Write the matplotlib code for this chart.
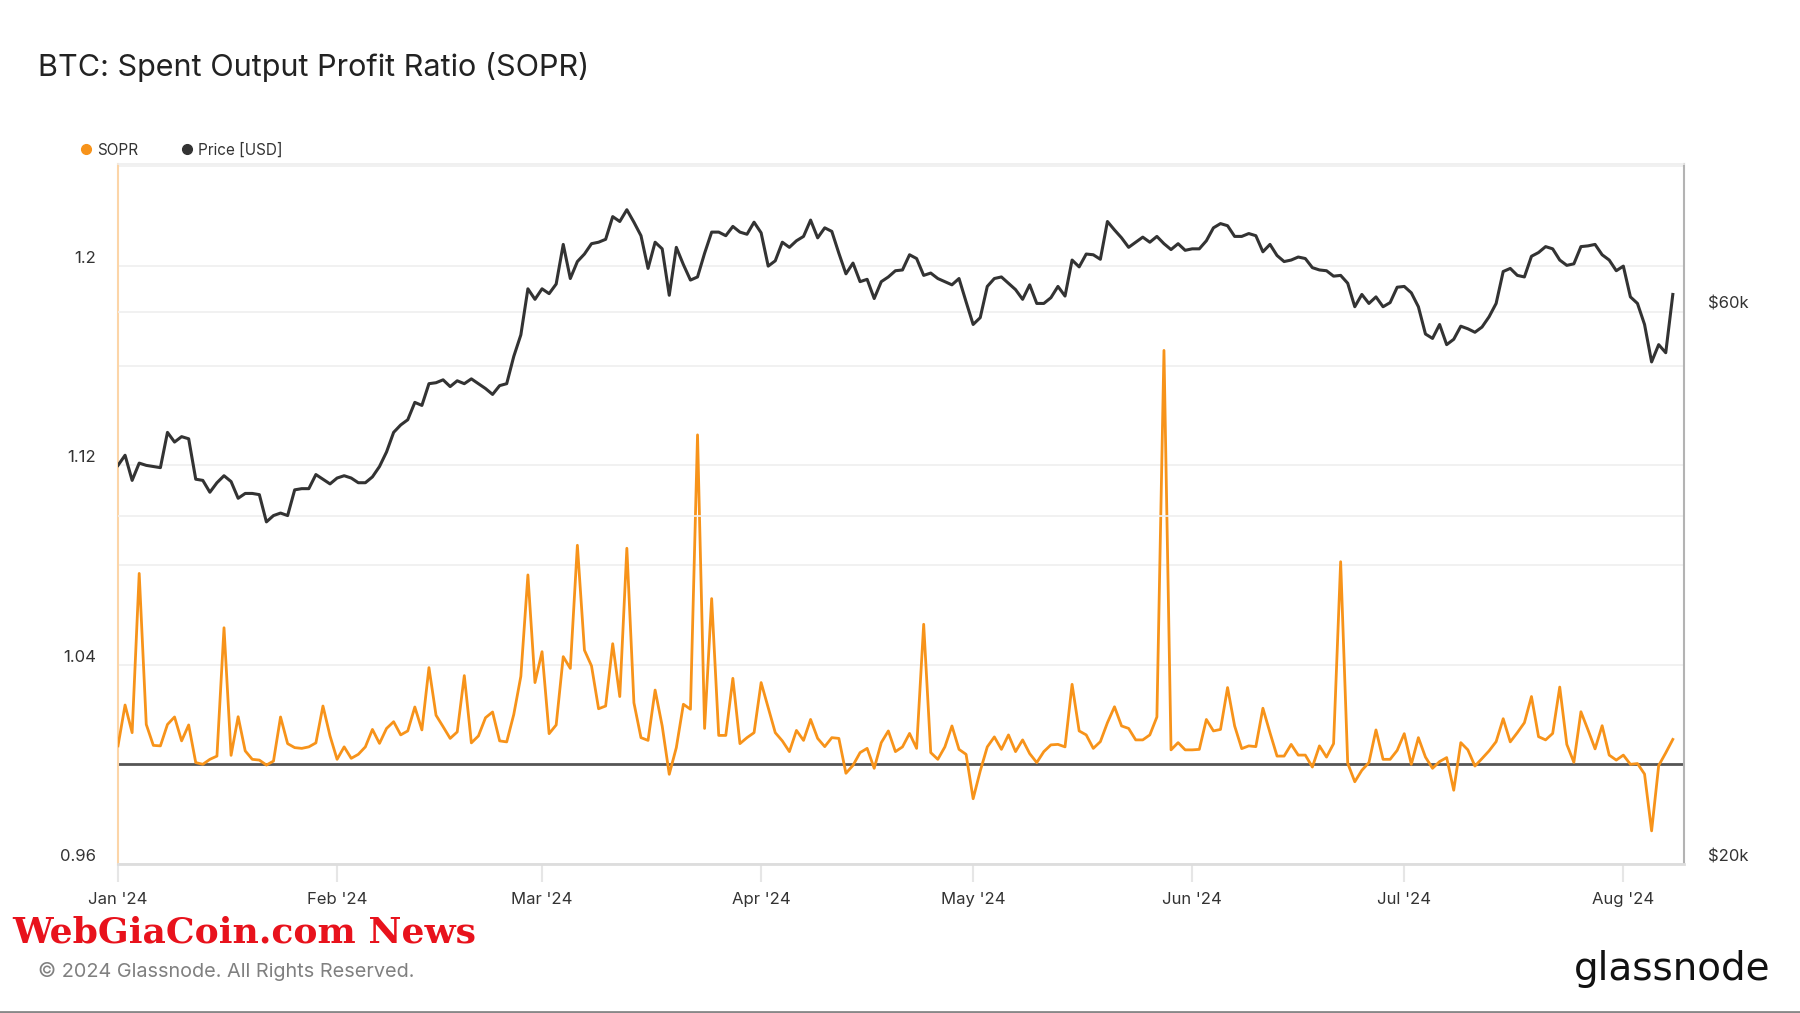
import numpy as np
import pandas as pd
import matplotlib
matplotlib.use("Agg")
import matplotlib.pyplot as plt
from matplotlib.lines import Line2D
from matplotlib.ticker import FixedLocator, FixedFormatter, NullLocator

plt.rcParams['font.family'] = ['Inter', 'DejaVu Sans']

# SOPR, daily from 1 Jan 2024
sopr = [
    1.0074, 1.0238, 1.0127, 1.0766, 1.0160, 1.0076, 1.0074, 1.0160, 1.0190, 1.0094,
    1.0158, 1.0007, 1.0000, 1.0020, 1.0033, 1.0548, 1.0036, 1.0191, 1.0054, 1.0020,
    1.0017, 0.9997, 1.0013, 1.0190, 1.0083, 1.0067, 1.0064, 1.0070, 1.0086, 1.0234,
    1.0114, 1.0020, 1.0070, 1.0024, 1.0040, 1.0070, 1.0140, 1.0084, 1.0144, 1.0171,
    1.0118, 1.0134, 1.0230, 1.0138, 1.0388, 1.0197, 1.0151, 1.0104, 1.0130, 1.0356,
    1.0086, 1.0114, 1.0187, 1.0210, 1.0094, 1.0090, 1.0200, 1.0353, 1.0760, 1.0328,
    1.0452, 1.0123, 1.0158, 1.0432, 1.0385, 1.0879, 1.0458, 1.0395, 1.0223, 1.0234,
    1.0484, 1.0272, 1.0867, 1.0247, 1.0107, 1.0096, 1.0298, 1.0154, 0.9960, 1.0067,
    1.0241, 1.0221, 1.1322, 1.0144, 1.0665, 1.0116, 1.0116, 1.0345, 1.0083, 1.0107,
    1.0127, 1.0328, 1.0227, 1.0127, 1.0094, 1.0051, 1.0136, 1.0096, 1.0180, 1.0104,
    1.0071, 1.0107, 1.0104, 0.9964, 0.9996, 1.0047, 1.0064, 0.9984, 1.0087, 1.0134,
    1.0051, 1.0070, 1.0124, 1.0064, 1.0562, 1.0047, 1.0020, 1.0070, 1.0154, 1.0060,
    1.0040, 0.9862, 0.9973, 1.0070, 1.0110, 1.0060, 1.0118, 1.0051, 1.0098, 1.0043,
    1.0007, 1.0051, 1.0078, 1.0080, 1.0070, 1.0321, 1.0134, 1.0118, 1.0064, 1.0091,
    1.0167, 1.0231, 1.0154, 1.0144, 1.0098, 1.0098, 1.0118, 1.0190, 1.1661, 1.0058,
    1.0087, 1.0058, 1.0058, 1.0060, 1.0180, 1.0134, 1.0140, 1.0308, 1.0154, 1.0063,
    1.0074, 1.0071, 1.0225, 1.0127, 1.0033, 1.0033, 1.0080, 1.0037, 1.0037, 0.9989,
    1.0074, 1.0029, 1.0083, 1.0813, 1.0004, 0.9930, 0.9976, 1.0007, 1.0138, 1.0020,
    1.0020, 1.0056, 1.0123, 1.0000, 1.0107, 1.0029, 0.9984, 1.0011, 1.0027, 0.9896,
    1.0087, 1.0058, 0.9993, 1.0023, 1.0054, 1.0091, 1.0183, 1.0090, 1.0127, 1.0167,
    1.0272, 1.0111, 1.0098, 1.0124, 1.0310, 1.0080, 1.0008, 1.0211, 1.0138, 1.0062,
    1.0155, 1.0037, 1.0017, 1.0037, 1.0000, 1.0003, 0.9961, 0.9733, 0.9995, 1.0046,
    1.0100,
]

# BTC price in thousands of USD, same days
price_k = [
    44.2, 45.1, 42.9, 44.4, 44.2, 44.1, 44.0, 47.2, 46.3, 46.8,
    46.6, 43.0, 42.9, 41.9, 42.7, 43.3, 42.8, 41.4, 41.8, 41.8,
    41.7, 39.5, 40.0, 40.2, 40.0, 42.1, 42.2, 42.2, 43.4, 43.0,
    42.6, 43.1, 43.3, 43.1, 42.7, 42.7, 43.2, 44.1, 45.4, 47.2,
    47.9, 48.4, 50.1, 49.8, 52.0, 52.1, 52.4, 51.7, 52.3, 52.0,
    52.5, 52.0, 51.5, 50.9, 51.8, 52.0, 54.9, 57.3, 62.8, 61.5,
    62.8, 62.2, 63.4, 68.6, 64.1, 66.3, 67.3, 68.7, 68.9, 69.3,
    72.5, 71.8, 73.5, 71.7, 69.8, 65.4, 68.9, 68.0, 62.0, 68.2,
    65.9, 63.9, 64.3, 67.4, 70.3, 70.3, 69.8, 71.1, 70.3, 70.0,
    71.7, 70.2, 65.7, 66.4, 68.9, 68.2, 69.1, 69.7, 72.0, 69.5,
    70.9, 70.4, 67.4, 64.7, 66.1, 63.7, 64.0, 61.6, 63.7, 64.3,
    65.1, 65.2, 67.2, 66.7, 64.5, 64.8, 64.1, 63.7, 63.3, 64.1,
    61.2, 58.5, 59.3, 63.1, 64.1, 64.3, 63.5, 62.7, 61.5, 63.3,
    61.0, 61.0, 61.7, 63.1, 61.9, 66.5, 65.6, 67.3, 67.2, 66.6,
    71.8, 70.6, 69.5, 68.2, 68.9, 69.6, 68.9, 69.7, 68.7, 67.9,
    68.7, 67.8, 68.0, 68.0, 69.1, 70.9, 71.5, 71.2, 69.7, 69.7,
    70.1, 69.8, 67.6, 68.6, 67.1, 66.3, 66.5, 66.9, 66.7, 65.5,
    65.2, 65.1, 64.4, 64.5, 63.5, 60.6, 62.1, 61.0, 61.8, 60.6,
    61.1, 63.0, 63.1, 62.3, 60.6, 57.4, 56.9, 58.5, 56.2, 56.8,
    58.3, 58.0, 57.6, 58.2, 59.4, 61.0, 65.0, 65.4, 64.5, 64.3,
    67.0, 67.5, 68.3, 68.0, 66.5, 65.8, 66.0, 68.3, 68.4, 68.6,
    67.2, 66.5, 65.1, 65.7, 61.8, 61.0, 58.5, 54.3, 56.2, 55.3,
    62.1,
]

dates = pd.date_range('2024-01-01', periods=len(sopr), freq='D')
price = np.array(price_k) * 1000

month_ticks = pd.date_range('2024-01-01', '2024-08-01', freq='MS')
month_labels = [d.strftime("%b '%y") for d in month_ticks]

sopr_ticks = [0.96, 1.00, 1.04, 1.08, 1.12, 1.16, 1.20, 1.24]
sopr_labels = ['0.96', '', '1.04', '', '1.12', '', '1.2', '']
price_ticks = [20000, 40000, 60000]
price_labels = ['$20k', '', '$60k']

ORANGE = '#f7931a'
DARK = '#333333'
GRID = '#efefef'

W, H = 1800, 1013
fig = plt.figure(figsize=(W / 100, H / 100), dpi=100)
ax = fig.add_axes([118 / W, (H - 864) / H, (1684 - 118) / W, 700 / H])
ax2 = ax.twinx()

# SOPR
ax.axhline(1.0, color='#555555', lw=2.0, zorder=2)
ax.plot(dates, sopr, color=ORANGE, lw=2.0, zorder=3)
ax.set_ylim(0.96, 1.2409)
ax.yaxis.set_major_locator(FixedLocator(sopr_ticks))
ax.yaxis.set_major_formatter(FixedFormatter(sopr_labels))
ax.grid(axis='y', color=GRID, lw=1.2, zorder=0)
ax.tick_params(axis='y', length=0, pad=16, labelsize=12, labelcolor=DARK)

# prix
ax2.plot(dates, price, color=DARK, lw=2.2, zorder=4)
ax2.set_yscale('log')
ax2.set_ylim(20000, 80500)
ax2.yaxis.set_major_locator(FixedLocator(price_ticks))
ax2.yaxis.set_major_formatter(FixedFormatter(price_labels))
ax2.yaxis.set_minor_locator(NullLocator())
ax2.grid(axis='y', which='major', color=GRID, lw=1.2, zorder=0)
ax2.tick_params(axis='y', length=0, pad=17, labelsize=12, labelcolor=DARK)

for lab in ax.get_yticklabels() + ax2.get_yticklabels():
    lab.set_verticalalignment('bottom')

ax.set_xlim(dates[0], dates[-1] + pd.Timedelta(hours=38))
ax.set_xticks(month_ticks)
ax.set_xticklabels(month_labels)
ax.tick_params(axis='x', length=13, width=1.5, color='#e6e6e6', pad=7,
               labelsize=12, labelcolor=DARK)

for s in ['top', 'right', 'bottom']:
    ax.spines[s].set_visible(False)
ax.spines['left'].set_color('#fcd5a8')
ax.spines['left'].set_linewidth(1.5)
ax2.spines['left'].set_visible(False)
ax2.spines['top'].set_color('#eeeeee')
ax2.spines['top'].set_linewidth(1.2)
ax2.spines['bottom'].set_color('#dddddd')
ax2.spines['bottom'].set_linewidth(2)
ax2.spines['right'].set_color('#b3b3b3')
ax2.spines['right'].set_linewidth(1.5)

# legende
handles = [Line2D([], [], marker='o', ls='', color=ORANGE, markersize=7),
           Line2D([], [], marker='o', ls='', color=DARK, markersize=7)]
fig.legend(handles, ['SOPR', 'Price [USD]'], loc='center left',
           bbox_to_anchor=(80 / W, 1 - 150 / H), ncol=2, frameon=False,
           fontsize=11, handlelength=0.8, handletextpad=0.3,
           columnspacing=2.8, borderpad=0, borderaxespad=0, labelcolor=DARK)

fig.text(38 / W, 1 - 67 / H, 'BTC: Spent Output Profit Ratio (SOPR)',
         fontsize=22, color='#222222', va='center')
fig.text(12 / W, 1 - 932 / H, 'WebGiaCoin.com News', fontsize=26,
         fontweight='bold', family='DejaVu Serif', color='#e8121c', va='center')
fig.text(38 / W, 1 - 971 / H, '\u00a9 2024 Glassnode. All Rights Reserved.',
         fontsize=14.3, color='#808080', va='center')
fig.text(1771 / W, 1 - 969 / H, 'glassnode', fontsize=28, color='#111111',
         ha='right', va='center', family='DejaVu Sans')
fig.add_artist(Line2D([0, 1], [1.5 / H, 1.5 / H], transform=fig.transFigure,
                      color='#888888', lw=2))

fig.savefig('out.png', dpi=100, facecolor='white')
